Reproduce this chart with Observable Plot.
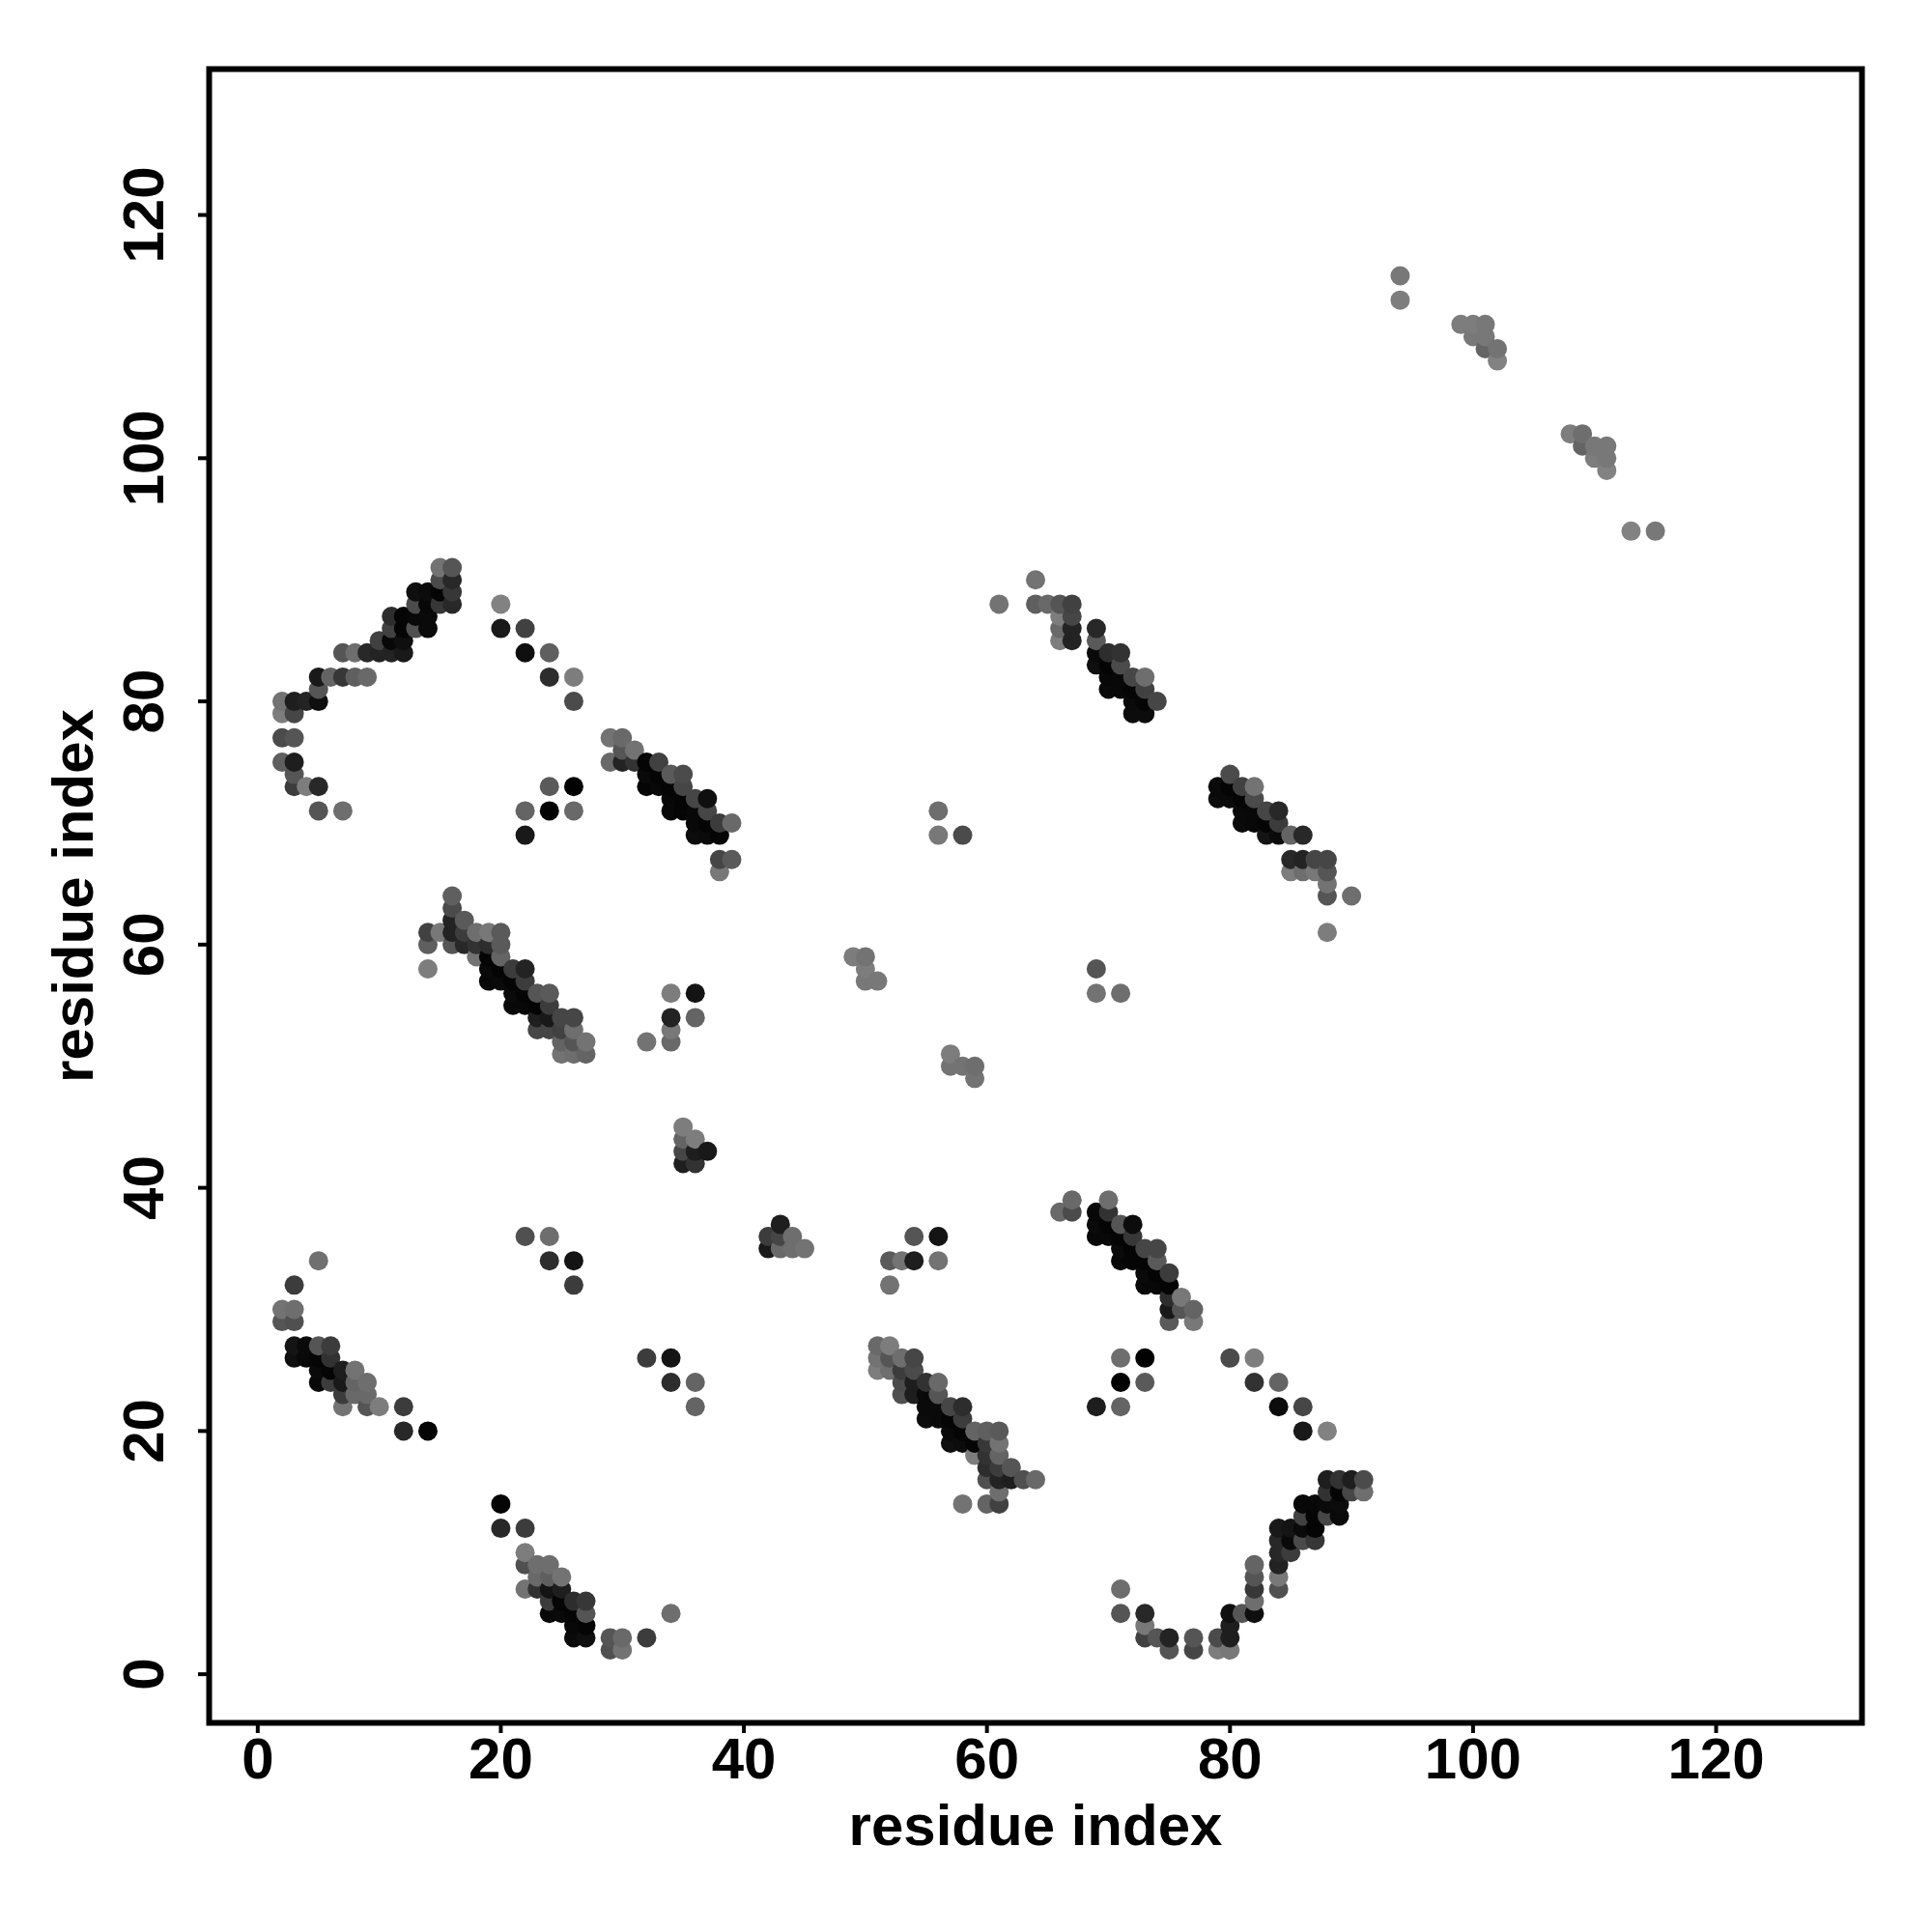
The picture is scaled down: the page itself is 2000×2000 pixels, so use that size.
<!DOCTYPE html>
<html>
<head>
<meta charset="utf-8">
<script src="https://cdn.jsdelivr.net/npm/d3@7"></script>
<script src="https://cdn.jsdelivr.net/npm/@observablehq/plot@0.6"></script>
<style>html,body{margin:0;padding:0;background:#fff}</style>
</head>
<body>
<div id="chart"></div>
<script>
// Each contact: [residue x, residue y, gray level]
const clusterLowLeft = [
[5,34,112],[3,32,60],[2,30,115],[3,30,110],[2,29,85],[3,29,80],
[3,27,20],[4,27,10],[5,27,85],[6,27,60],[3,26,15],[4,26,8],[5,26,5],[6,26,50],
[5,25,10],[6,25,5],[7,25,30],[8,25,115],[5,24,8],[6,24,60],[7,24,25],[8,24,100],[9,24,110],
[7,23,60],[8,23,105],[9,23,105],[7,22,115],[9,22,85],[10,22,125],[12,22,60],[12,20,40],[14,20,5]];
const clusterLowSparse = [
[22,36,80],[24,36,110],[24,34,45],[26,34,20],[26,32,60],
[32,26,60],[34,26,20],[34,24,45],[36,24,100],[36,22,100]];
const clusterBottomA = [
[20,14,5],[20,12,40],[22,12,60],[22,10,125],[22,9,80],[23,9,110],[24,9,110],
[23,8,105],[24,8,95],[25,8,115],[22,7,115],[23,7,50],[24,7,20],[25,7,30],
[24,6,60],[25,6,5],[26,6,45],[27,6,55],[24,5,8],[25,5,10],[26,5,5],[27,5,85],
[26,4,8],[27,4,5],[26,3,10],[27,3,15],[29,3,85],[30,3,105],[32,3,60],[29,2,80],[30,2,115],[34,5,110]];
const clusterCentreStrand = [
[51,27,105],[52,27,125],[51,26,115],[52,26,85],[53,26,110],[54,26,70],
[51,25,125],[52,25,110],[53,25,60],[54,25,75],[53,24,75],[54,24,30],[55,24,50],[56,24,105],
[53,23,80],[54,23,30],[55,23,10],[56,23,85],[55,22,10],[56,22,10],[57,22,70],[58,22,45],
[55,21,12],[56,21,10],[57,21,5],[58,21,60],[57,20,10],[58,20,5],[59,20,100],[60,20,95],[61,20,90],
[57,19,15],[58,19,12],[59,19,5],[60,19,55],[61,19,115],[59,18,125],[60,18,50],[61,18,100],
[60,17,45],[61,17,60],[62,17,85],[60,16,80],[61,16,35],[62,16,30],[63,16,80],[64,16,105],
[61,15,110],[58,14,115],[60,14,100],[61,14,65]];
const clusterMidRight = [
[66,38,105],[67,39,105],[70,39,110],[67,38,75],[69,38,8],[70,38,50],
[69,37,10],[70,37,5],[71,37,85],[72,37,12],[69,36,8],[70,36,8],[71,36,5],[72,36,55],
[71,35,10],[72,35,5],[73,35,70],[74,35,70],[71,34,8],[72,34,5],[73,34,5],[74,34,90],
[73,33,10],[74,33,5],[75,33,60],[73,32,8],[74,32,8],[75,32,5],[75,31,45],[76,31,120],
[75,30,25],[76,30,85],[77,30,100],[75,29,90],[77,29,120]];
const clusterMidSparse = [
[71,26,110],[73,26,2],[80,26,75],[82,26,125],[71,24,2],[73,24,90],[82,24,50],[84,24,100],
[69,22,30],[71,22,100],[84,22,12],[86,22,70],[86,20,25],[88,20,130]];
const clusterBottomRight = [
[71,7,110],[71,5,85],[73,5,40],[73,4,120],[73,3,65],[74,3,85],[75,3,35],[77,3,85],[79,3,75],[80,3,30],
[75,2,85],[77,2,70],[79,2,125],[80,2,120],[80,5,15],[81,5,85],[82,5,15],[80,4,30],
[82,6,110],[82,7,55],[82,8,85],[82,9,100],[84,7,80],[84,8,120],[84,9,35],[84,10,40],[84,11,40],[84,12,25],
[85,10,60],[85,11,10],[85,12,20],[86,11,75],[87,11,55],[86,12,10],[87,12,5],
[86,13,65],[87,13,5],[88,13,70],[89,13,10],[86,14,8],[87,14,8],[88,14,10],[89,14,12],
[88,15,50],[89,15,5],[90,15,70],[91,15,110],[88,16,30],[89,16,50],[90,16,30],[91,16,75]];
const clusterUpperLeft = [
[15,91,115],[16,91,85],[15,90,75],[16,90,40],[13,89,15],[14,89,12],[15,89,5],[16,89,55],
[13,88,75],[14,88,8],[15,88,55],[16,88,40],[11,87,45],[12,87,5],[13,87,8],[14,87,10],
[11,86,65],[12,86,5],[13,86,80],[14,86,10],[10,85,65],[11,85,8],[12,85,15],
[7,84,85],[8,84,110],[9,84,40],[10,84,35],[11,84,35],[12,84,25],
[5,82,25],[6,82,100],[7,82,55],[8,82,95],[9,82,105],[5,81,85],
[2,80,115],[3,80,30],[4,80,35],[5,80,15],[2,79,125],[3,79,70],[2,77,75],[3,77,85],
[2,75,95],[3,75,30],[3,74,85],[3,73,60],[4,73,125],[5,73,40],[5,71,85],[7,71,110]];
const clusterUpperSparse = [
[20,88,130],[20,86,25],[22,86,65],[22,84,15],[24,84,95],[24,82,45],[26,82,125],[26,80,75],
[24,73,90],[26,73,2],[22,71,100],[24,71,2],[26,71,105],[22,69,25]];
const clusterMidLeft = [
[16,64,95],[16,63,75],[16,62,35],[17,62,90],[14,61,65],[15,61,120],[16,61,35],[17,61,60],[18,61,110],[19,61,120],[20,61,90],
[14,60,95],[16,60,85],[17,60,40],[18,60,50],[19,60,45],[20,60,90],[18,59,115],[19,59,5],[20,59,100],
[14,58,125],[19,58,10],[20,58,5],[21,58,60],[22,58,35],[19,57,8],[20,57,10],[21,57,5],[22,57,60],
[21,56,10],[22,56,5],[23,56,85],[24,56,90],[21,55,8],[22,55,8],[23,55,5],[24,55,60],
[23,54,30],[24,54,25],[25,54,70],[26,54,70],[23,53,70],[24,53,70],[25,53,65],[26,53,110],
[25,52,100],[26,52,85],[27,52,115],[25,51,115],[26,51,110],[27,51,100]];
const clusterCentreSparse = [
[34,56,125],[36,56,20],[34,54,35],[36,54,100],[34,53,120],[34,52,105],[32,52,115],
[35,45,125],[35,44,100],[36,44,125],[35,43,70],[36,43,30],[37,43,25],[35,42,30],[36,42,50],
[43,37,30],[42,36,60],[43,36,70],[44,36,110],[42,35,25],[43,35,105],[44,35,110],[45,35,115],
[54,36,85],[56,36,20],[52,34,90],[53,34,115],[54,34,30],[56,34,115],[52,32,115],
[56,71,110],[56,69,120],[58,69,75],[49,59,125],[50,59,115],[50,58,125],[50,57,120],[51,57,120],
[69,58,85],[69,56,115],[71,56,110],[57,51,125],[57,50,115],[58,50,115],[59,50,110],[59,49,115]];
const clusterUpperMid = [
[29,77,115],[30,77,105],[30,76,85],[31,76,115],[29,75,105],[30,75,35],[31,75,50],[32,75,5],[33,75,65],
[32,74,10],[33,74,5],[34,74,90],[35,74,75],[32,73,5],[33,73,8],[34,73,5],[35,73,70],
[34,72,8],[35,72,5],[36,72,70],[37,72,15],[34,71,8],[35,71,5],[36,71,8],[37,71,70],
[36,70,8],[37,70,5],[38,70,60],[39,70,105],[36,69,12],[37,69,10],[38,69,5],[38,67,70],[39,67,90],[38,66,120]];
const clusterUpperRightA = [
[61,88,115],[64,90,115],[64,88,95],[65,88,105],[66,88,85],[67,88,65],[66,87,125],[67,87,70],
[66,86,105],[67,86,35],[69,86,40],[66,85,125],[67,85,35],[69,85,90],[69,84,10],[70,84,45],[71,84,50],
[69,83,15],[70,83,5],[71,83,75],[70,82,8],[71,82,8],[72,82,70],[73,82,110],
[70,81,10],[71,81,8],[72,81,5],[73,81,65],[72,80,10],[73,80,5],[74,80,70],[72,79,12],[73,79,12]];
const clusterUpperRightB = [
[80,74,75],[79,73,10],[80,73,5],[81,73,65],[82,73,115],[79,72,12],[80,72,10],[81,72,5],[82,72,75],
[81,71,10],[82,71,8],[83,71,70],[84,71,40],[81,70,10],[82,70,8],[83,70,5],[84,70,60],
[83,69,20],[84,69,10],[85,69,100],[86,69,40],[85,67,40],[86,67,35],[87,67,70],[88,67,70],
[85,66,125],[86,66,110],[87,66,120],[88,66,85],[88,65,115],[88,64,85],[90,64,110],[88,61,125]];
const clusterFarRight = [
[94,115,120],[94,113,125],[99,111,125],[100,111,125],[101,111,120],[100,110,120],[101,110,120],
[101,109,100],[102,109,115],[102,108,130],[108,102,125],[109,102,110],[109,101,100],[110,101,120],[111,101,120],
[110,100,125],[111,100,120],[111,99,130],[113,94,130],[115,94,120]];

const tickValues = [0, 20, 40, 60, 80, 100, 120];
const axisTitle = "residue index";

const contacts = [
  ...clusterLowLeft, ...clusterLowSparse, ...clusterBottomA, ...clusterCentreStrand,
  ...clusterMidRight, ...clusterMidSparse, ...clusterBottomRight, ...clusterUpperLeft,
  ...clusterUpperSparse, ...clusterMidLeft, ...clusterCentreSparse, ...clusterUpperMid,
  ...clusterUpperRightA, ...clusterUpperRightB, ...clusterFarRight
].map(([x, y, level]) => ({x, y, level}))
 .sort((a, b) => d3.ascending(a.x, b.x) || d3.ascending(a.y, b.y));

const chart = Plot.plot({
  width: 2000,
  height: 2000,
  marginLeft: 216,
  marginRight: 73,
  marginTop: 71,
  marginBottom: 217,
  style: {fontFamily: "'Liberation Sans', Arial, sans-serif", fontWeight: "bold", background: "#fff", color: "#000"},
  x: {domain: [-4, 132]},
  y: {domain: [-4, 132]},
  color: {type: "linear", domain: [0, 255], range: ["#000", "#fff"]},
  marks: [
    Plot.dot(contacts, {x: "x", y: "y", fill: "level", r: 10}),
    Plot.frame({stroke: "#000", strokeWidth: 6}),
    Plot.axisX({
      ticks: tickValues, tickSize: 11, strokeWidth: 4, tickPadding: 4, fontSize: 60,
      label: axisTitle, labelAnchor: "center", labelArrow: "none", labelOffset: 126, tickFormat: d => d
    }),
    Plot.axisY({
      ticks: tickValues, tickSize: 11, strokeWidth: 4, tickPadding: 37, fontSize: 60,
      tickRotate: -90, textAnchor: "middle",
      label: axisTitle, labelAnchor: "center", labelArrow: "none", labelOffset: 163, tickFormat: d => d
    })
  ]
});
document.getElementById("chart").appendChild(chart);
</script>
</body>
</html>
